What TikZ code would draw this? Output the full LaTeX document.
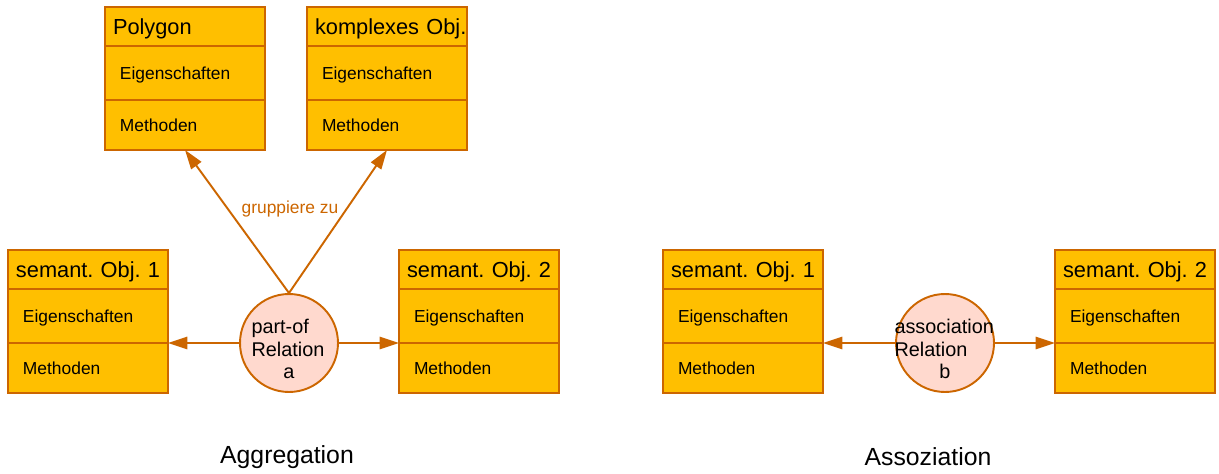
\documentclass[tikz,border=0pt]{standalone}
\usepackage{fontspec}
\setmainfont{Liberation Sans}
\usetikzlibrary{positioning}
\usetikzlibrary{arrows.meta}
\definecolor{linecol}{RGB}{204,102,0}
\definecolor{boxcol}{RGB}{255,191,0}
\definecolor{relcol}{RGB}{255,217,206}
\frenchspacing
% object box: name, x, y, title
\newcommand*{\objbox}[4]{%
    \node [objtitle] (#1-t) at (#2,#3) {\mbox{#4}};
    \node [objrow, minimum height=1.08cm, below=0pt of #1-t] (#1-p) {Eigenschaften};
    \node [objrow, minimum height=1.00cm, below=0pt of #1-p] (#1-m) {Methoden};
}
\tikzset{
    objtitle/.style={draw=linecol, fill=boxcol, line width=1.1pt, outer sep=0pt, anchor=north west,
        minimum height=0.78cm, inner xsep=0.16cm, text width=2.88cm, align=left, text depth=0pt,
        font=\fontsize{12.4}{14}\selectfont},
    objrow/.style={draw=linecol, fill=boxcol, line width=1.1pt, outer sep=0pt, text depth=0pt,
        inner xsep=0.3cm, text width=2.6cm, align=left, font=\fontsize{9.9}{12}\selectfont},
    rel/.style={circle, draw=linecol, fill=relcol, line width=1.1pt, minimum size=1.96cm, inner sep=0pt},
    reltext/.style={text width=#1, align=left, inner sep=0pt, font=\fontsize{11.3}{12.6}\selectfont},
    link/.style={draw=linecol, line width=1.1pt, -{Triangle[length=11pt,width=7pt]}},
    lbl/.style={text=linecol, font=\fontsize{9.9}{12}\selectfont},
    caption/.style={font=\fontsize{14.1}{17}\selectfont}
}

\begin{document}
\begin{tikzpicture}[x=0.02cm, y=-0.02cm]
    \useasboundingbox (0,0) rectangle (1219,473);
    % aggregation
    \objbox{poly}{105}{7}{Polygon}
    \objbox{komp}{307}{7}{komplexes Obj.}
    \objbox{sa}{8}{250}{semant. Obj. 1}
    \objbox{ta}{399}{250}{semant. Obj. 2}
    \node [rel] (ra) at (289,343) {};
    \node [reltext=1.5cm] (ra-txt) at ([yshift=-0.12cm]ra.center) {part-of\\Relation\\\hspace*{\fill}a\hspace*{\fill}\mbox{}};
    \draw [link] (ra.west) -- (sa-p.south east);
    \draw [link] (ra.east) -- (ta-p.south west);
    \draw [link] (ra.north) -- (poly-m.south);
    \draw [link] (ra.north) -- (komp-m.south);
    \node [lbl] (grp) at (290,209) {gruppiere zu};
    \node [caption] (agg) at (287,457) {Aggregation};
    % association
    \objbox{sb}{663}{250}{semant. Obj. 1}
    \objbox{tb}{1055}{250}{semant. Obj. 2}
    \node [rel] (rb) at (945,343) {};
    \node [reltext=2.02cm] (rb-txt) at ([yshift=-0.12cm]rb.center) {association\\Relation\\\hspace*{\fill}b\hspace*{\fill}\mbox{}};
    \draw [link] (rb.west) -- (sb-p.south east);
    \draw [link] (rb.east) -- (tb-p.south west);
    \node [caption] (asz) at (928,457) {Assoziation};
\end{tikzpicture}
\end{document}
